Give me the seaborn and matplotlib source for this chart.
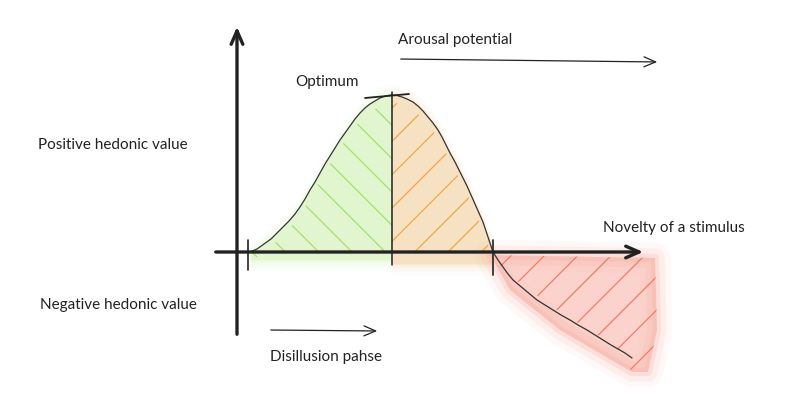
import numpy as np
import matplotlib
matplotlib.use("Agg")
import matplotlib.pyplot as plt
import seaborn as sns

sns.set_theme(style="white")
plt.rcParams["font.family"] = ["Lato", "DejaVu Sans"]

# Wundt curve (x = novelty, y = hedonic value)
novelty = np.array([13, 20, 27, 34, 40, 46, 52, 58, 63, 68, 73, 78, 83, 88, 93, 98,
                    103, 108, 113, 118, 123, 128, 133, 138, 143, 147, 151, 155,
                    160, 165, 170, 176, 181, 186, 191, 196, 201, 205, 209, 213,
                    218, 222, 226, 230, 234, 238, 242, 246, 251, 256,
                    261, 266, 271, 276, 282, 288, 294, 300, 308, 316, 324, 333,
                    341, 350, 358, 366, 374, 381, 388, 395])
hedonic = np.array([0, 3, 8, 13, 19, 25, 31, 38, 45, 53, 62, 70, 79, 88, 96, 104,
                    112, 119, 126, 133, 139, 144, 148, 151, 154, 155.5, 156.5, 157,
                    156.5, 155, 153, 150, 146, 141, 135, 129, 122, 115, 107, 99,
                    90, 82, 74, 66, 57, 48, 39, 30, 15, 0,
                    -8, -15, -22, -28, -33, -38, -43, -48, -53, -58, -63, -68,
                    -73, -78, -83, -88, -93, -97, -101, -106])

peak_x = 155
zero_x = 256

# red watercolour wash corners
red_wash_x = [253, 418, 420, 411, 395, 323, 273, 256]
red_wash_y = [-3, -6, -78, -120, -120, -78, -38, -8]

labels = {
    "Positive hedonic value": (-199, 107),
    "Negative hedonic value": (-197, -53),
    "Optimum": (58, 170),
    "Arousal potential": (161, 212),
    "Novelty of a stimulus": (366, 24),
    "Disillusion pahse": (33, -105),
}

fig = plt.figure(figsize=(8, 3.99), dpi=100)
ax = fig.add_axes([0, 0, 1, 1])
ax.set_xlim(-237, 563)
ax.set_ylim(-147, 252)
ax.axis("off")

ink = "#222222"

# watercolour washes (a few soft layers)
green = novelty <= peak_x
orange = (novelty >= peak_x) & (novelty <= zero_x)
for grow, a in [(0, 0.32), (3, 0.14), (7, 0.08), (11, 0.04)]:
    ax.fill_between(novelty[green], hedonic[green] + grow, -8 - grow,
                    color="#c6f2a0", alpha=a, linewidth=0)
    ax.fill_between(novelty[orange], hedonic[orange] + grow, -12 - grow,
                    color="#f2c488", alpha=a, linewidth=0)
    ax.fill(red_wash_x, red_wash_y, facecolor="#f8a396" if grow == 0 else "none",
            alpha=a * 1.5, linewidth=2 * grow, edgecolor="#f8a396",
            joinstyle="round")

# hatching
plt.rcParams["hatch.linewidth"] = 0.9
ax.fill_between(novelty[green], hedonic[green] - 8, 0, facecolor="none",
                edgecolor="#a6e06a", hatch="\\", linewidth=0)
ax.fill_between(novelty[orange], hedonic[orange] - 8, 0, facecolor="none",
                edgecolor="#f0a848", hatch="/", linewidth=0)
ax.fill(red_wash_x[:5] + [380, 320, 275], red_wash_y[:5] + [-95, -58, -25],
        facecolor="none", edgecolor="#f47a68", hatch="/", linewidth=0)

# the curve
sns.lineplot(x=novelty, y=hedonic, sort=False, color="#333333", linewidth=0.9,
             ax=ax, estimator=None)

# axes of the sketch
ax.annotate("", xy=(0, 228), xytext=(0, -85),
            arrowprops=dict(arrowstyle="->,head_length=0.8,head_width=0.35",
                            color=ink, lw=2.4))
ax.annotate("", xy=(409, 0), xytext=(-24, 0),
            arrowprops=dict(arrowstyle="->,head_length=0.8,head_width=0.35",
                            color=ink, lw=2.4))

# markers: start, optimum, zero crossing
ax.plot([11, 11], [-18, 12], color=ink, lw=1.2)
ax.plot([zero_x, zero_x], [-23, 12], color=ink, lw=1.2)
ax.plot([peak_x, peak_x], [160, -13], color=ink, lw=1.1)
ax.plot([128, 172], [154, 158], color=ink, lw=1.3)

# side arrows
ax.annotate("", xy=(423, 190), xytext=(161, 193),
            arrowprops=dict(arrowstyle="->,head_length=0.7,head_width=0.3",
                            color=ink, lw=0.9))
ax.annotate("", xy=(143, -79), xytext=(31, -78),
            arrowprops=dict(arrowstyle="->,head_length=0.7,head_width=0.3",
                            color=ink, lw=0.9))

for text, (x, y) in labels.items():
    ax.text(x, y, text, fontsize=11, color=ink, ha="left", va="center",
            fontweight="normal")

fig.savefig("out.png", dpi=100, facecolor="white")
